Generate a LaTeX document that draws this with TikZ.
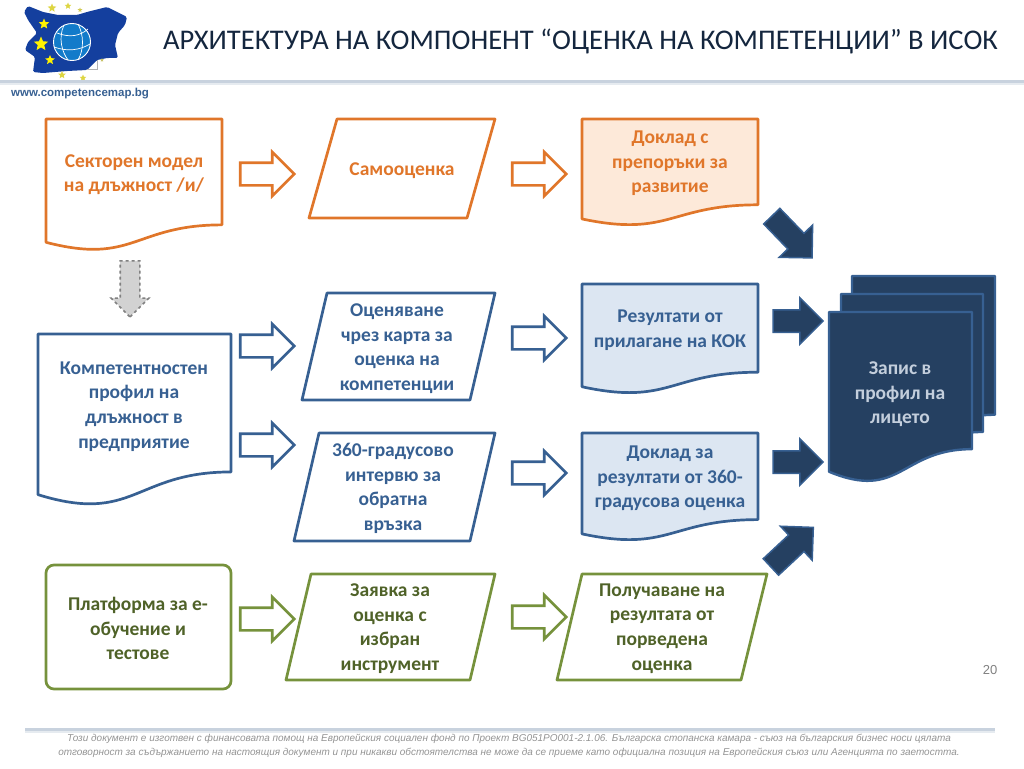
\documentclass[tikz,border=0pt]{standalone}
\usepackage{fontspec}
\setmainfont{Carlito}
\newfontfamily\arialfont{Liberation Sans}
\usetikzlibrary{arrows.meta,positioning,shapes.geometric,shapes.arrows,calc}
\definecolor{OrangeLine}{HTML}{E0762A}
\definecolor{OrangeFill}{HTML}{FDE9D9}
\definecolor{BlueLine}{HTML}{376092}
\definecolor{BlueFill}{HTML}{DCE6F2}
\definecolor{GreenLine}{HTML}{76923C}
\definecolor{GreenText}{HTML}{4F6228}
\definecolor{NavyFill}{HTML}{254061}
\definecolor{NavyText}{HTML}{C3CEDC}
\definecolor{RuleGrey}{HTML}{C8D2DE}
\definecolor{LogoBlue}{HTML}{143F9E}
\definecolor{TitleInk}{HTML}{14263E}
\tikzset{
  orange box/.style={draw=OrangeLine,line width=2.7pt,line join=round},
  blue box/.style={draw=BlueLine,line width=2.7pt,line join=round},
  green box/.style={draw=GreenLine,line width=2.7pt,line join=round},
  navy box/.style={draw=BlueLine,fill=NavyFill,line width=2.4pt,line join=round},
  box text/.style={align=center,inner sep=0pt,yshift=-1.5pt,font=\fontsize{19.5}{24.6}\selectfont\bfseries},
  block arrow/.style={single arrow,inner xsep=0pt,
    single arrow tip angle=90,single arrow head indent=0pt,anchor=center},
  hollow arrow/.style={block arrow,fill=white,line width=2.7pt,line join=miter,
    minimum height=54pt,inner ysep=10pt,single arrow head extend=10.5pt},
  navy arrow/.style={block arrow,draw=BlueLine,fill=NavyFill,line width=1.5pt,
    minimum height=50pt,inner ysep=10.5pt,single arrow head extend=12pt},
  logo star/.style={star,star points=5,star point ratio=2.2,inner sep=0pt,fill=#1}
}
\newcommand{\docshape}[5]{%
  \draw[#1] (#2,#3) -- ++(#4,0) -- ++(0,0.802*#5)
    .. controls (#2+0.5*#4,#3+0.802*#5) and (#2+0.5*#4,#3+1.1075*#5) .. (#2,#3+0.934*#5) -- cycle;}
\begin{document}
\begin{tikzpicture}[x=1pt,y=-1pt]
  \useasboundingbox (0,0) rectangle (1024,768);
  % logo
  \fill[LogoBlue,rounded corners=1.5pt] (28,6) -- (43,12) -- (58,15) -- (77,15) -- (87,12) -- (107,7) -- (127,17) -- (125,25)
    -- (118,33) -- (115,45) -- (118,58) -- (107,58) -- (97,60) -- (87,70) -- (67,71) -- (43,73)
    -- (33,72) -- (35,57) -- (25,50) -- (28,42) -- (37,33) -- (28,20) -- (24,12) -- cycle;
  \draw[gray!60,line width=0.5pt] (87,69) -- (97,69) -- (97,60);
  \node[circle,draw=white,fill=cyan!60!blue,line width=0.9pt,minimum size=37pt,inner sep=0pt] (globe) at (72,42) {};
  \draw[white,line width=0.7pt] (57,33) .. controls (70,38) and (80,36) .. (88,29);
  \draw[white,line width=0.7pt] (54,47) .. controls (68,52) and (80,50) .. (90,44);
  \draw[white,line width=0.7pt] (64,25) .. controls (58,38) and (62,52) .. (68,60);
  \draw[white,line width=0.7pt] (78,24) .. controls (84,35) and (84,50) .. (78,60);
  \node[logo star=yellow,minimum size=15pt] (s1) at (41,44) {};
  \node[logo star=yellow,minimum size=11pt] (s2) at (44,24) {};
  \node[logo star=yellow,minimum size=10pt] (s3) at (50,60) {};
  \node[logo star=yellow!70!gray,minimum size=9pt] (s4) at (52,8) {};
  \node[logo star=yellow!70!gray,minimum size=7pt] (s5) at (68,6) {};
  \node[logo star=yellow!60!gray,minimum size=5pt] (s6) at (80,10) {};
  \node[logo star=yellow!70!gray,minimum size=8pt] (s7) at (62,75) {};
  \node[logo star=yellow!70!gray,minimum size=7pt] (s8) at (83,78) {};
  \node[logo star=yellow!50!gray,minimum size=4pt] (s9) at (102,60) {};
  % header and footer
  \fill[RuleGrey!45] (0,83) rectangle (1024,85);
  \fill[RuleGrey] (0,79.5) rectangle (1024,83);
  \fill[RuleGrey!45] (25,731) rectangle (995,733);
  \fill[RuleGrey] (25,727.5) rectangle (995,731);
  \node[inner sep=0pt,text=TitleInk,font=\fontsize{28.5}{30}\selectfont] (title) at (580.5,41)
    {АРХИТЕКТУРА НА КОМПОНЕНТ “ОЦЕНКА НА КОМПЕТЕНЦИИ” В ИСОК};
  \node[inner sep=0pt,anchor=west,text=BlueLine,font=\arialfont\fontsize{11.5}{13}\selectfont\bfseries] (site) at (11,93.5)
    {www.competencemap.bg};
  \node[inner sep=0pt,text=gray!85,font=\arialfont\fontsize{9.98}{13.5}\selectfont\itshape,align=center] (note) at (509,746)
    {Този документ е изготвен с финансовата помощ на Европейския социален фонд по Проект BG051PO001-2.1.06. Българска стопанска камара - съюз на българския бизнес носи цялата\\
     отговорност за съдържанието на настоящия документ и при никакви обстоятелства не може да се приеме като официална позиция на Европейския съюз или Агенцията по заетостта.};
  \node[inner sep=0pt,text=gray,font=\arialfont\fontsize{13}{15}\selectfont] (pagenum) at (990,670) {20};

  % first row
  \docshape{orange box}{46}{119}{176}{132}
  \node[box text,text=OrangeLine] (sector) at (134,173) {Секторен модел\\на длъжност /и/};
  \draw[orange box] (309,218) -- (337,119) -- (495,119) -- (467,218) -- cycle;
  \node[box text,text=OrangeLine] (self) at (402,169) {Самооценка};
  \docshape{orange box,fill=OrangeFill}{582}{119}{176}{107}
  \node[box text,text=OrangeLine] (report) at (670,162) {Доклад с\\препоръки за\\развитие};
  \node[hollow arrow,draw=OrangeLine] (arrowa) at (261.5,174) {};
  \node[hollow arrow,draw=OrangeLine] (arrowb) at (533.5,174) {};
  \node[block arrow,draw=gray,dashed,fill=gray!35,line width=1.6pt,minimum height=56pt,
    inner ysep=9pt,single arrow head extend=9pt,rotate=-90] (arrowdown) at (130,284) {};

  % second and third row
  \docshape{blue box}{38}{334}{193}{172}
  \node[box text,text=BlueLine] (profile) at (134,405) {Компетентностен\\профил на\\длъжност в\\предприятие};
  \draw[blue box] (302,400) -- (327,293) -- (495,293) -- (470,400) -- cycle;
  \node[box text,text=BlueLine] (card) at (397,347) {Оценяване\\чрез карта за\\оценка на\\компетенции};
  \draw[blue box] (294,541) -- (319,433) -- (495,433) -- (470,541) -- cycle;
  \node[box text,text=BlueLine] (interview) at (393,487) {360-градусово\\интервю за\\обратна\\връзка};
  \docshape{blue box,fill=BlueFill}{582}{284}{176}{110}
  \node[box text,text=BlueLine] (kok) at (670,329) {Резултати от\\прилагане на КОК};
  \docshape{blue box,fill=BlueFill}{582}{433}{176}{108}
  \node[box text,text=BlueLine] (result) at (670,477) {Доклад за\\резултати от 360-\\градусова оценка};
  \node[hollow arrow,draw=BlueLine] (arrowc) at (261.5,346) {};
  \node[hollow arrow,draw=BlueLine] (arrowd) at (261.5,445) {};
  \node[hollow arrow,draw=BlueLine] (arrowe) at (533.5,338) {};
  \node[hollow arrow,draw=BlueLine] (arrowf) at (533.5,473) {};

  % fourth row
  \draw[green box,rounded corners=8pt] (46,565) rectangle (231,689);
  \node[box text,text=GreenText] (platform) at (138,627) {Платформа за е-\\обучение и\\тестове};
  \draw[green box] (286,680) -- (311,574) -- (495,574) -- (470,680) -- cycle;
  \node[box text,text=GreenText] (request) at (390,627) {Заявка за\\оценка с\\избран\\инструмент};
  \draw[green box] (557,680) -- (582,574) -- (767,574) -- (741,680) -- cycle;
  \node[box text,text=GreenText] (outcome) at (662,627) {Получаване на\\резултата от\\порведена\\оценка};
  \node[hollow arrow,draw=GreenLine] (arrowg) at (261.5,619) {};
  \node[hollow arrow,draw=GreenLine] (arrowh) at (533.5,617) {};

  % record stack
  \docshape{navy box}{852}{276}{143}{173}
  \docshape{navy box}{841}{294}{142}{172}
  \docshape{navy box}{829}{312}{143}{171}
  \node[box text,text=NavyText] (record) at (900,393) {Запис в\\профил на\\лицето};
  \node[navy arrow,rotate=-46,minimum height=58pt] (arrowi) at (788,233) {};
  \node[navy arrow] (arrowj) at (792.5,321) {};
  \node[navy arrow] (arrowk) at (792.5,462) {};
  \node[navy arrow,rotate=43,minimum height=58pt] (arrowl) at (788,551) {};
\end{tikzpicture}
\end{document}
